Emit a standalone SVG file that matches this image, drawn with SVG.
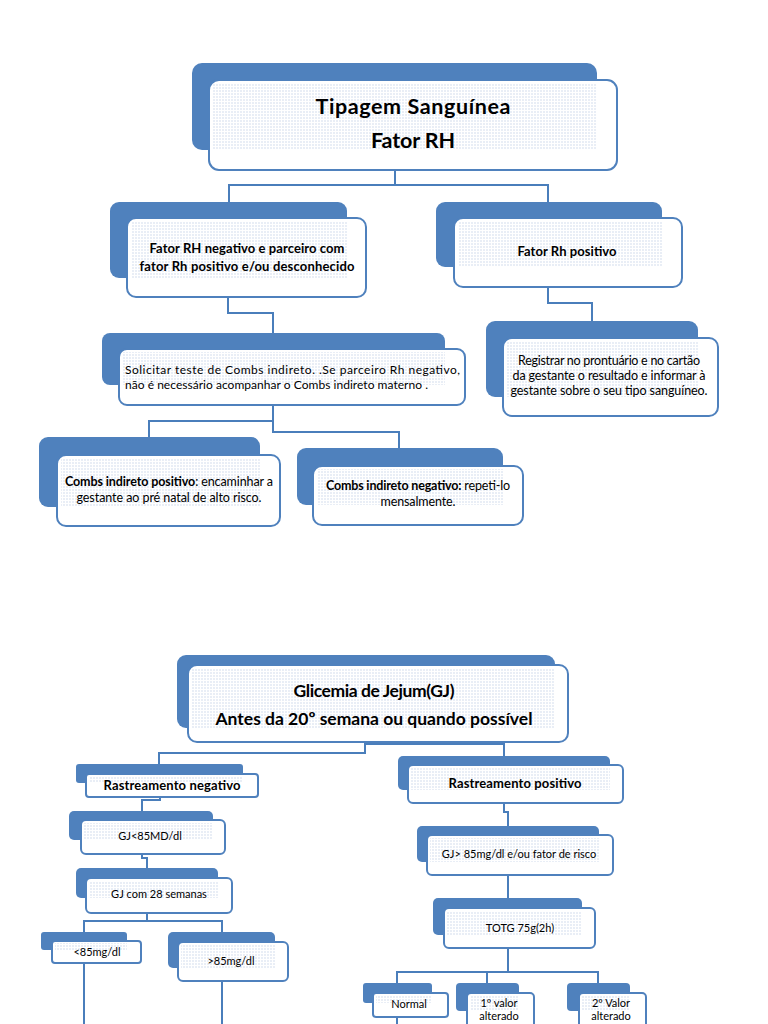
<svg xmlns="http://www.w3.org/2000/svg" width="768" height="1024" viewBox="0 0 768 1024">
<defs>
<pattern id="dots" width="3" height="3" patternUnits="userSpaceOnUse"><rect width="2" height="2" fill="#e9eef6"/></pattern>
<style>
.back{fill:#4f81bd}
.front{fill:#ffffff;stroke:#4f81bd;stroke-width:2}
.dot{fill:url(#dots)}
.conn{fill:none;stroke:#4a7ebb;stroke-width:2}
text{font-family:Lato,"Open Sans","Liberation Sans",sans-serif;fill:#000}
.b{font-weight:bold}
.t1{font-size:21.5px;font-weight:bold}
.t2{font-size:13px}
.t3{font-size:12.5px}
.t3s{font-size:12px}
.t4{font-size:11px}
.t5{font-size:17.5px;font-weight:bold}
</style>
</defs>
<rect width="768" height="1024" fill="#ffffff"/>

<g id="connectors">
<path class="conn" d="M395,170 V185 M229,202 V185 H548 V202"/>
<path class="conn" d="M228,297 V313 H273 V333"/>
<path class="conn" d="M548,287 V303 H592 V321"/>
<path class="conn" d="M273,405 V432 H399 V448 M273,421 H149 V437"/>
<path class="conn" d="M365,742 V753 H159 V764 M365,744 H504 V756"/>
<path class="conn" d="M160,797 V800 H142 V811"/>
<path class="conn" d="M142,854 V858 H147 V868"/>
<path class="conn" d="M147,913 V921 H84 V932 M147,921 H222 V942"/>
<path class="conn" d="M84,963 V1024 M222,981 V1024"/>
<path class="conn" d="M504,803 V812 H508 V826"/>
<path class="conn" d="M508,875 V898"/>
<path class="conn" d="M508,948 V972 H397 V983 M487,972 V983 M508,972 H598 V983"/>
<path class="conn" d="M397,1017 V1024"/>
</g>

<g id="n1">
<rect class="back" x="192" y="63" width="405" height="87" rx="10"/>
<rect class="front" x="209" y="80" width="408" height="90" rx="10"/>
<rect class="dot" x="213" y="83" width="384" height="67"/>
<text class="t1" x="413" y="114" text-anchor="middle" textLength="195">Tipagem Sanguínea</text>
<text class="t1" x="413" y="148" text-anchor="middle" textLength="84">Fator RH</text>
</g>

<g id="n2">
<rect class="back" x="110" y="202" width="237" height="76" rx="9"/>
<rect class="front" x="127" y="218" width="239" height="79" rx="9"/>
<rect class="dot" x="131" y="221" width="216" height="57"/>
<text class="t2 b" x="247" y="253" text-anchor="middle" textLength="195">Fator RH negativo e parceiro com</text>
<text class="t2 b" x="247" y="271" text-anchor="middle" textLength="215">fator Rh positivo e/ou desconhecido</text>
</g>

<g id="n3">
<rect class="back" x="436" y="202" width="226" height="65" rx="9"/>
<rect class="front" x="454" y="218" width="228" height="69" rx="9"/>
<rect class="dot" x="458" y="221" width="204" height="46"/>
<text class="t2 b" x="567" y="256" text-anchor="middle" textLength="99">Fator Rh positivo</text>
</g>

<g id="n4">
<rect class="back" x="102" y="333" width="343" height="52" rx="8"/>
<rect class="front" x="119" y="349" width="346" height="56" rx="8"/>
<rect class="dot" x="123" y="352" width="322" height="33"/>
<text class="t3s" x="125" y="374" textLength="335">Solicitar teste de Combs indireto. .Se parceiro Rh negativo,</text>
<text class="t3s" x="125" y="389" textLength="303">não é necessário acompanhar o Combs indireto materno .</text>
</g>

<g id="n5">
<rect class="back" x="486" y="321" width="212" height="76" rx="9"/>
<rect class="front" x="503" y="338" width="215" height="78" rx="9"/>
<rect class="dot" x="507" y="341" width="191" height="56"/>
<text class="t3" x="609" y="365" text-anchor="middle" textLength="182">Registrar no prontuário e no cartão</text>
<text class="t3" x="609" y="380" text-anchor="middle" textLength="193">da gestante o resultado e informar à</text>
<text class="t3" x="609" y="395" text-anchor="middle" textLength="197">gestante sobre o  seu tipo sanguíneo.</text>
</g>

<g id="n6">
<rect class="back" x="39" y="437" width="221" height="70" rx="9"/>
<rect class="front" x="57" y="455" width="223" height="71" rx="9"/>
<rect class="dot" x="61" y="458" width="199" height="49"/>
<text class="t3" x="169" y="486" text-anchor="middle" textLength="208"><tspan class="b">Combs indireto positivo</tspan>: encaminhar a</text>
<text class="t3" x="169" y="502" text-anchor="middle" textLength="185">gestante ao pré natal de alto risco.</text>
</g>

<g id="n7">
<rect class="back" x="297" y="448" width="206" height="57" rx="9"/>
<rect class="front" x="313" y="466" width="210" height="59" rx="9"/>
<rect class="dot" x="317" y="469" width="186" height="36"/>
<text class="t3" x="418" y="490" text-anchor="middle" textLength="184"><tspan class="b">Combs indireto negativo:</tspan> repeti-lo</text>
<text class="t3" x="418" y="506" text-anchor="middle" textLength="75">mensalmente.</text>
</g>

<g id="n8">
<rect class="back" x="177" y="655" width="378" height="73" rx="9"/>
<rect class="front" x="188" y="665" width="380" height="77" rx="9"/>
<rect class="dot" x="192" y="668" width="363" height="60"/>
<text class="t5" x="374" y="697" text-anchor="middle" textLength="161">Glicemia de Jejum(GJ)</text>
<text class="t5" x="374" y="725" text-anchor="middle" textLength="317">Antes da 20º semana ou quando possível</text>
</g>

<g id="n9">
<rect class="back" x="76" y="764" width="167" height="19" rx="3"/>
<rect class="front" x="86" y="774" width="172" height="23" rx="3"/>
<rect class="dot" x="89" y="776" width="154" height="7"/>
<text class="t2 b" x="172" y="790" text-anchor="middle" textLength="137">Rastreamento negativo</text>
</g>

<g id="n10">
<rect class="back" x="69" y="811" width="144" height="29" rx="5"/>
<rect class="front" x="81" y="820" width="144" height="34" rx="5"/>
<rect class="dot" x="84" y="823" width="129" height="17"/>
<text class="t4" x="150" y="840" text-anchor="middle">GJ&lt;85MD/dl</text>
</g>

<g id="n11">
<rect class="back" x="76" y="868" width="142" height="30" rx="5"/>
<rect class="front" x="86" y="878" width="146" height="35" rx="5"/>
<rect class="dot" x="89" y="881" width="129" height="17"/>
<text class="t4" x="159" y="898" text-anchor="middle">GJ  com 28 semanas</text>
</g>

<g id="n12">
<rect class="back" x="41" y="932" width="86" height="18" rx="3"/>
<rect class="front" x="52" y="941" width="89" height="22" rx="3"/>
<rect class="dot" x="55" y="943" width="72" height="7"/>
<text class="t4" x="97" y="956" text-anchor="middle">&lt;85mg/dl</text>
</g>

<g id="n13">
<rect class="back" x="168" y="932" width="107" height="36" rx="5"/>
<rect class="front" x="178" y="942" width="110" height="39" rx="5"/>
<rect class="dot" x="181" y="945" width="94" height="23"/>
<text class="t4" x="231" y="965" text-anchor="middle">&gt;85mg/dl</text>
</g>

<g id="n14">
<rect class="back" x="398" y="756" width="212" height="34" rx="5"/>
<rect class="front" x="408" y="765" width="215" height="38" rx="5"/>
<rect class="dot" x="411" y="768" width="199" height="22"/>
<text class="t2 b" x="515" y="788" text-anchor="middle" textLength="133">Rastreamento positivo</text>
</g>

<g id="n15">
<rect class="back" x="417" y="826" width="182" height="36" rx="5"/>
<rect class="front" x="427" y="835" width="186" height="40" rx="5"/>
<rect class="dot" x="430" y="838" width="169" height="24"/>
<text class="t4" x="519" y="858" text-anchor="middle">GJ&gt; 85mg/dl e/ou fator de risco</text>
</g>

<g id="n16">
<rect class="back" x="433" y="898" width="149" height="37" rx="5"/>
<rect class="front" x="444" y="908" width="151" height="40" rx="5"/>
<rect class="dot" x="447" y="911" width="135" height="24"/>
<text class="t4" x="520" y="932" text-anchor="middle">TOTG 75g(2h)</text>
</g>

<g id="n17">
<rect class="back" x="363" y="983" width="69" height="20" rx="3"/>
<rect class="front" x="373" y="993" width="75" height="24" rx="3"/>
<rect class="dot" x="376" y="995" width="56" height="8"/>
<text class="t4" x="409" y="1008" text-anchor="middle">Normal</text>
</g>

<g id="n18">
<rect class="back" x="456" y="983" width="63" height="28" rx="4"/>
<rect class="front" x="467" y="993" width="67" height="37" rx="4"/>
<rect class="dot" x="470" y="996" width="49" height="15"/>
<text class="t4" x="499" y="1007" text-anchor="middle">1º valor</text>
<text class="t4" x="499" y="1020" text-anchor="middle">alterado</text>
</g>

<g id="n19">
<rect class="back" x="567" y="983" width="63" height="28" rx="4"/>
<rect class="front" x="579" y="993" width="67" height="37" rx="4"/>
<rect class="dot" x="582" y="996" width="48" height="15"/>
<text class="t4" x="611" y="1007" text-anchor="middle">2º Valor</text>
<text class="t4" x="611" y="1020" text-anchor="middle">alterado</text>
</g>
</svg>
